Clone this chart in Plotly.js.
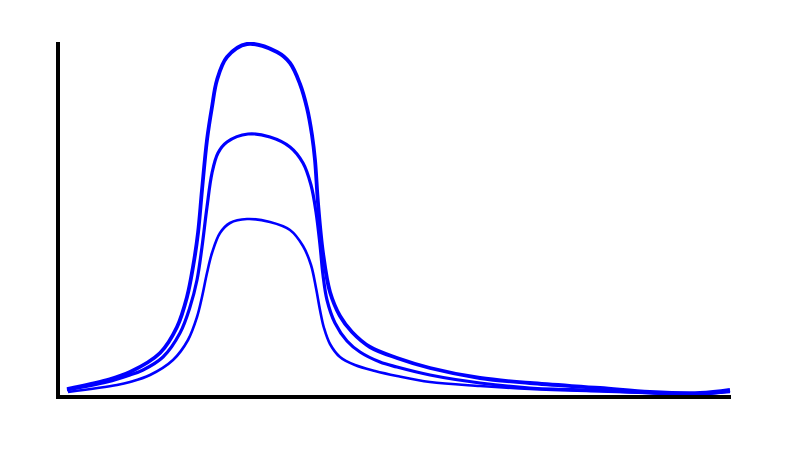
<!DOCTYPE html>
<html>
<head>
<meta charset="utf-8">
<script src="https://cdn.plot.ly/plotly-3.0.1.min.js"></script>
<style>
  html, body { margin: 0; padding: 0; background: #fff; }
  #chart { width: 800px; height: 450px; }
</style>
</head>
<body>
<div id="chart"></div>
<script>
// three humped curves
var xTall = [9, 49, 72, 102, 119, 129, 135, 140, 144, 149, 154, 159, 169, 189, 219, 232, 242, 249, 254, 257, 260, 265, 272, 282, 294, 312, 339, 372, 422, 472, 542, 592, 642, 672]
var yTall = [8, 17, 25, 44, 70, 100, 130, 164, 207, 257, 290, 317, 340, 353, 345, 334, 313, 289, 262, 237, 194, 144, 105, 81, 65, 50, 39, 29, 19, 14, 9, 5, 4, 7]

var xMid = [9, 49, 72, 85, 105, 122, 132, 139, 144, 149, 154, 160, 169, 190, 212, 232, 245, 253, 258, 262, 265, 269, 277, 289, 302, 322, 339, 372, 422, 472, 542, 592, 642, 672]
var yMid = [7, 15, 22, 27, 40, 64, 90, 117, 150, 190, 224, 244, 255, 263, 260, 250, 234, 212, 185, 152, 122, 97, 74, 56, 45, 35, 30, 22, 14, 9, 6.5, 4, 3, 6]

var xSmall = [10, 59, 72, 92, 115, 130, 139, 144, 149, 154, 162, 172, 189, 212, 232, 245, 253, 258, 262, 266, 272, 282, 297, 317, 339, 372, 422, 472, 542, 592, 642, 672]
var ySmall = [5, 12, 15, 22, 37, 57, 80, 100, 124, 144, 164, 174, 178, 175, 167, 151, 132, 109, 87, 69, 53, 40, 32, 26, 21, 15, 11, 8, 5.5, 4, 3, 5]

function curve (x, y, w) {
  return {
    x: x,
    y: y,
    mode: 'lines',
    line: { color: '#0000ff', width: w, shape: 'spline', smoothing: 1 },
    hoverinfo: 'skip',
    showlegend: false
  }
}

var data = [
  curve(xSmall, ySmall, 2.6),
  curve(xMid, yMid, 3.2),
  curve(xTall, yTall, 3.8)
]

var layout = {
  width: 800,
  height: 450,
  margin: { l: 60, r: 69, t: 42, b: 55 },
  paper_bgcolor: '#fff',
  plot_bgcolor: '#fff',
  xaxis: {
    range: [2, 673],
    showline: true, linecolor: '#000', linewidth: 4,
    showgrid: false, zeroline: false, showticklabels: false, ticks: ''
  },
  yaxis: {
    range: [2, 355],
    showline: true, linecolor: '#000', linewidth: 4,
    showgrid: false, zeroline: false, showticklabels: false, ticks: ''
  }
}

Plotly.newPlot('chart', data, layout, { staticPlot: true, displayModeBar: false })
</script>
</body>
</html>
